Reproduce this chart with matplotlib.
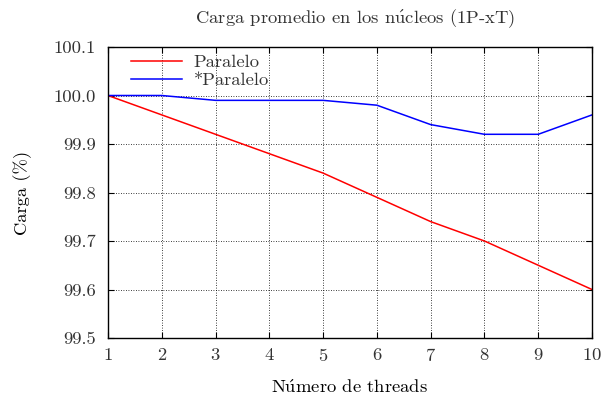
import matplotlib
matplotlib.use('Agg')
import matplotlib.pyplot as plt

# data
threads = [1, 2, 3, 4, 5, 6, 7, 8, 9, 10]
paralelo = [100.00, 99.96, 99.92, 99.88, 99.84, 99.79, 99.74, 99.70, 99.65, 99.60]
paralelo_star = [100.00, 100.00, 99.99, 99.99, 99.99, 99.98, 99.94, 99.92, 99.92, 99.96]
yticks = [99.5, 99.6, 99.7, 99.8, 99.9, 100.0, 100.1]

FS = 13.4

plt.rcParams.update({
    'font.family': ['cmr10', 'DejaVu Serif'],
    'mathtext.fontset': 'cm',
    'axes.formatter.use_mathtext': True,
    'font.size': FS,
    'text.color': '#333333',
})

fig = plt.figure(figsize=(6.05, 3.98), dpi=100)
ax = fig.add_axes([108 / 605, 1 - 338 / 398, (592 - 108) / 605, (338 - 47) / 398])

ax.plot(threads, paralelo, color='#ff0000', lw=1.1, label='Paralelo')
ax.plot(threads, paralelo_star, color='#0000ff', lw=1.1, label='*Paralelo')

ax.set_xlim(1, 10)
ax.set_ylim(99.5, 100.1)
ax.set_xticks(threads)
ax.set_yticks(yticks)
ax.set_yticklabels([f'{v:.1f}' for v in yticks])
ax.tick_params(direction='in', top=True, right=True, length=4, colors='black',
               labelcolor='#333333', labelsize=FS)
ax.tick_params(axis='y', pad=9)
ax.tick_params(axis='x', pad=6.5)
ax.grid(True, linestyle=(0, (1, 2)), color='black', lw=0.6)
for s in ax.spines.values():
    s.set_linewidth(1.0)

ax.set_title(r'Carga promedio en los n$\mathrm{\acute{u}}$cleos (1P-xT)', fontsize=FS,
             x=0.51, pad=17)
ax.set_xlabel(r'N$\mathrm{\acute{u}}$mero de threads', fontsize=FS, labelpad=10)
ax.set_ylabel('Carga (%)', fontsize=FS, labelpad=15)

ax.legend(loc='upper left', bbox_to_anchor=(15.6 / 484, 1.0), frameon=False,
          handlelength=2.75, handletextpad=0.6, borderaxespad=0, borderpad=0.4,
          labelspacing=0.1, fontsize=FS)

fig.savefig('out.png', dpi=100)
